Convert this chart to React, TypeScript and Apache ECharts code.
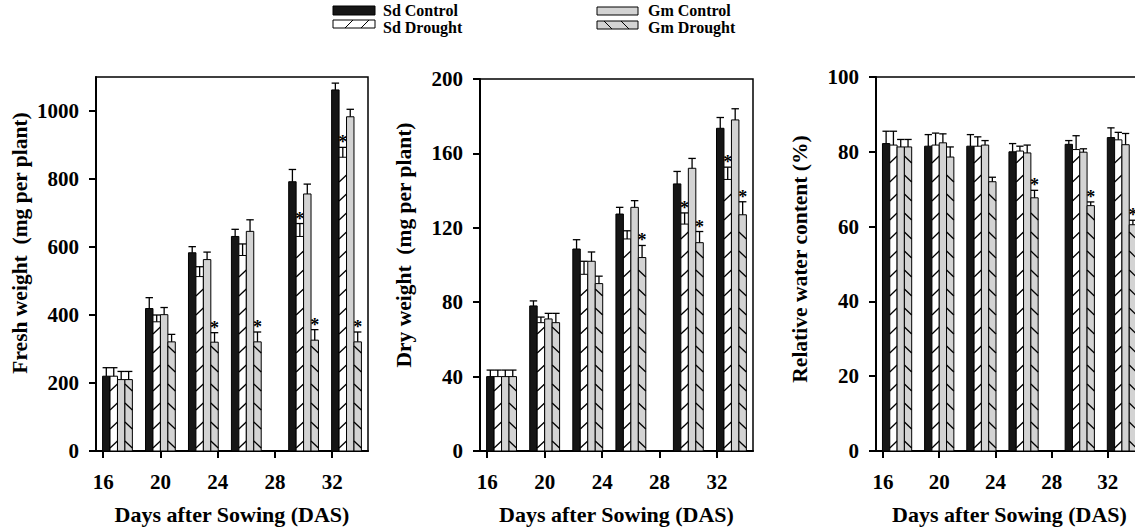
import React, { useEffect, useRef } from "react";
import * as echarts from "echarts";

// ---- data ----
const DAYS = [17, 20, 23, 26, 30, 33];
const X_TICKS = [16, 20, 24, 28, 32];
const TREATMENTS = ["Sd Control", "Sd Drought", "Gm Control", "Gm Drought"];

// Fresh weight (mg per plant)
const FW_TICKS = [0, 200, 400, 600, 800, 1000];
const FW_SD_CONTROL = [220, 419, 583, 631, 792, 1062];
const FW_SD_CONTROL_ERR = [25, 32, 18, 21, 36, 20];
const FW_SD_DROUGHT = [220, 380, 513, 575, 631, 864];
const FW_SD_DROUGHT_ERR = [25, 20, 29, 34, 38, 29];
const FW_GM_CONTROL = [210, 401, 563, 646, 756, 983];
const FW_GM_CONTROL_ERR = [24, 21, 22, 34, 29, 22];
const FW_GM_DROUGHT = [210, 321, 320, 321, 326, 321];
const FW_GM_DROUGHT_ERR = [24, 22, 28, 29, 31, 29];
const FW_SD_DROUGHT_SIG = [0, 0, 0, 0, 1, 1];
const FW_GM_DROUGHT_SIG = [0, 0, 1, 1, 1, 1];

// Dry weight (mg per plant)
const DW_TICKS = [0, 40, 80, 120, 160, 200];
const DW_SD_CONTROL = [40, 78, 108.6, 127.4, 143.6, 173.5];
const DW_SD_CONTROL_ERR = [3.5, 2.7, 5, 3.6, 6.7, 5.8];
const DW_SD_DROUGHT = [40, 69, 95, 114, 122, 146];
const DW_SD_DROUGHT_ERR = [3.5, 3, 7, 4.4, 6, 6.6];
const DW_GM_CONTROL = [40, 71, 102, 131, 152, 178];
const DW_GM_CONTROL_ERR = [3.5, 3, 5, 3.6, 5.3, 6];
const DW_GM_DROUGHT = [40, 69, 90, 104, 112, 127];
const DW_GM_DROUGHT_ERR = [3.5, 5, 4, 6.5, 6, 7];
const DW_SD_DROUGHT_SIG = [0, 0, 0, 0, 1, 1];
const DW_GM_DROUGHT_SIG = [0, 0, 0, 1, 1, 1];

// Relative water content (%)
const RWC_TICKS = [0, 20, 40, 60, 80, 100];
const RWC_SD_CONTROL = [82.2, 81.5, 81.5, 80, 82, 83.8];
const RWC_SD_CONTROL_ERR = [3.3, 3.1, 3.1, 2.2, 1, 2.6];
const RWC_SD_DROUGHT = [81.8, 81.8, 81.5, 80.2, 80.6, 83.2];
const RWC_SD_DROUGHT_ERR = [3.7, 3.2, 2.5, 1.3, 3.7, 2];
const RWC_GM_CONTROL = [81.3, 82.4, 81.8, 79.7, 79.9, 81.9];
const RWC_GM_CONTROL_ERR = [2, 2.4, 1.2, 2.1, 0.9, 3];
const RWC_GM_DROUGHT = [81.3, 78.6, 72, 67.7, 65.6, 60.5];
const RWC_GM_DROUGHT_ERR = [2, 2.7, 1.2, 2, 1, 1.2];
const RWC_GM_DROUGHT_SIG = [0, 0, 0, 1, 1, 1];

const NONE = [0, 0, 0, 0, 0, 0];

const FONT = "'Liberation Serif', 'Times New Roman', serif";
const GRAY = "#d3d3d3";
const BLACK = "#161616";

const panels = [
  {
    title: "Fresh weight  (mg per plant)",
    ticks: FW_TICKS,
    max: 1100,
    shift: 42,
    grid: { left: 96, top: 77, width: 272, height: 381 },
    series: [
      [FW_SD_CONTROL, FW_SD_CONTROL_ERR, NONE],
      [FW_SD_DROUGHT, FW_SD_DROUGHT_ERR, FW_SD_DROUGHT_SIG],
      [FW_GM_CONTROL, FW_GM_CONTROL_ERR, NONE],
      [FW_GM_DROUGHT, FW_GM_DROUGHT_ERR, FW_GM_DROUGHT_SIG],
    ],
  },
  {
    title: "Dry weight  (mg per plant)",
    ticks: DW_TICKS,
    max: 200,
    shift: 40,
    grid: { left: 480, top: 79, width: 273, height: 380 },
    series: [
      [DW_SD_CONTROL, DW_SD_CONTROL_ERR, NONE],
      [DW_SD_DROUGHT, DW_SD_DROUGHT_ERR, DW_SD_DROUGHT_SIG],
      [DW_GM_CONTROL, DW_GM_CONTROL_ERR, NONE],
      [DW_GM_DROUGHT, DW_GM_DROUGHT_ERR, DW_GM_DROUGHT_SIG],
    ],
  },
  {
    title: "Relative water content (%)",
    ticks: RWC_TICKS,
    max: 100,
    shift: 10,
    grid: { left: 876, top: 77, width: 267, height: 383 },
    series: [
      [RWC_SD_CONTROL, RWC_SD_CONTROL_ERR, NONE],
      [RWC_SD_DROUGHT, RWC_SD_DROUGHT_ERR, NONE],
      [RWC_GM_CONTROL, RWC_GM_CONTROL_ERR, NONE],
      [RWC_GM_DROUGHT, RWC_GM_DROUGHT_ERR, RWC_GM_DROUGHT_SIG],
    ],
  },
];

const BAR_DAYS = 0.52; // width of one bar, in days

function makeRender(k: number) {
  return (params: any, api: any) => {
    const x = api.value(0);
    const v = api.value(1);
    const e = api.value(2);
    const sig = api.value(3);
    const w = api.size([BAR_DAYS, 0])[0];
    const b = api.coord([x, 0]);
    const cx = b[0] + (k - 1.5) * w;
    const base = b[1];
    const top = api.coord([x, v])[1];
    const et = api.coord([x, v + e])[1];
    const x0 = cx - w / 2;
    const x1 = cx + w / 2;
    const fill = k === 0 ? BLACK : k === 1 ? "#fff" : GRAY;
    const children: any[] = [
      {
        type: "rect",
        shape: { x: x0, y: top, width: w, height: base - top },
        style: { fill, stroke: "#000", lineWidth: 1 },
      },
    ];
    if (k === 1 || k === 3) {
      for (let y = base - 3; y - 7 >= top + 1; y -= 19) {
        children.push({
          type: "line",
          shape:
            k === 1
              ? { x1: x0, y1: y, x2: x1, y2: y - 7 }
              : { x1: x0, y1: y - 7, x2: x1, y2: y },
          style: { stroke: "#000", lineWidth: 1.3 },
        });
      }
    }
    children.push({
      type: "line",
      shape: { x1: cx, y1: top, x2: cx, y2: et },
      style: { stroke: "#000", lineWidth: 1.3 },
    });
    children.push({
      type: "line",
      shape: { x1: x0, y1: et, x2: x1, y2: et },
      style: { stroke: "#000", lineWidth: 1.3 },
    });
    if (sig) {
      children.push({
        type: "text",
        x: cx,
        y: et + 4,
        style: {
          text: "*",
          fill: "#000",
          font: `bold 18px ${FONT}`,
          align: "center",
          verticalAlign: "bottom",
        },
      });
    }
    return { type: "group", children };
  };
}

function legendItems() {
  const els: any[] = [];
  const txt = (x: number, y: number, t: string) => ({
    type: "text",
    x,
    y,
    style: {
      text: t,
      fill: "#000",
      font: `bold 16px ${FONT}`,
      align: "left",
      verticalAlign: "middle",
    },
  });
  // Sd Control
  els.push({ type: "rect", shape: { x: 333, y: 6, width: 42, height: 9 }, style: { fill: BLACK, stroke: "#000", lineWidth: 1 } });
  els.push(txt(383, 10, TREATMENTS[0]));
  // Sd Drought
  els.push({ type: "rect", shape: { x: 333, y: 20, width: 42, height: 8 }, style: { fill: "#fff", stroke: "#000", lineWidth: 1 } });
  els.push({ type: "line", shape: { x1: 345, y1: 28, x2: 353, y2: 20 }, style: { stroke: "#000", lineWidth: 1 } });
  els.push({ type: "line", shape: { x1: 361, y1: 28, x2: 369, y2: 20 }, style: { stroke: "#000", lineWidth: 1 } });
  els.push(txt(383, 27, TREATMENTS[1]));
  // Gm Control
  els.push({ type: "rect", shape: { x: 597, y: 7, width: 41, height: 8 }, style: { fill: GRAY, stroke: "#000", lineWidth: 1 } });
  els.push(txt(648, 10, TREATMENTS[2]));
  // Gm Drought
  els.push({ type: "rect", shape: { x: 597, y: 21, width: 41, height: 8 }, style: { fill: GRAY, stroke: "#000", lineWidth: 1 } });
  els.push({ type: "line", shape: { x1: 604, y1: 21, x2: 612, y2: 29 }, style: { stroke: "#000", lineWidth: 1 } });
  els.push({ type: "line", shape: { x1: 621, y1: 21, x2: 629, y2: 29 }, style: { stroke: "#000", lineWidth: 1 } });
  els.push(txt(648, 27, TREATMENTS[3]));
  return els;
}

export default function App() {
  const ref = useRef<HTMLDivElement>(null);
  useEffect(() => {
    if (!ref.current) return;
    const chart = echarts.init(ref.current, undefined, { renderer: "svg" });
    const labelStyle = { color: "#000", fontFamily: FONT, fontWeight: "bold", fontSize: 21 };
    const fmt = (v: number) => String(v);
    const grids = panels.map((p) => ({
      ...p.grid,
      show: true,
      borderColor: "#000",
      borderWidth: 1.5,
      backgroundColor: "transparent",
    }));
    const xAxes = panels.map((p, i) => ({
      type: "value",
      gridIndex: i,
      min: 15.5,
      max: 34.5,
      name: "Days after Sowing (DAS)",
      nameLocation: "middle",
      nameGap: 52,
      nameTextStyle: { ...labelStyle, fontSize: 22 },
      axisLine: { lineStyle: { color: "#000", width: 2 } },
      axisTick: { show: true, inside: false, length: 7, lineStyle: { color: "#000", width: 2 }, customValues: X_TICKS },
      axisLabel: { ...labelStyle, margin: 20, customValues: X_TICKS, formatter: fmt },
      splitLine: { show: false },
    }));
    const yAxes = panels.map((p, i) => ({
      type: "value",
      gridIndex: i,
      min: 0,
      max: p.max,
      name: p.title,
      nameLocation: "middle",
      nameRotate: 90,
      nameGap: 65,
      nameTextStyle: { ...labelStyle, fontSize: 21.5, padding: [0, 0, 0, p.shift] },
      axisLine: { show: true, lineStyle: { color: "#000", width: 2 } },
      axisTick: { show: true, inside: false, length: 7, lineStyle: { color: "#000", width: 2 }, customValues: p.ticks },
      axisLabel: { ...labelStyle, margin: 17, customValues: p.ticks, formatter: fmt },
      splitLine: { show: false },
    }));
    const series: any[] = [];
    panels.forEach((p, i) => {
      p.series.forEach(([vals, errs, sig], k) => {
        series.push({
          type: "custom",
          name: TREATMENTS[k],
          xAxisIndex: i,
          yAxisIndex: i,
          clip: false,
          renderItem: makeRender(k),
          encode: { x: 0, y: 1 },
          data: DAYS.map((d, j) => [d, vals[j], errs[j], sig[j]]),
        });
      });
    });
    chart.setOption({
      animation: false,
      backgroundColor: "#fff",
      grid: grids,
      xAxis: xAxes,
      yAxis: yAxes,
      series,
      graphic: legendItems(),
    });
    return () => chart.dispose();
  }, []);
  return (
    <div
      style={{
        position: "absolute",
        left: 0,
        top: 0,
        width: 1135,
        height: 530,
        overflow: "hidden",
        background: "#fff",
      }}
    >
      <div ref={ref} style={{ width: 1160, height: 530 }} />
    </div>
  );
}
